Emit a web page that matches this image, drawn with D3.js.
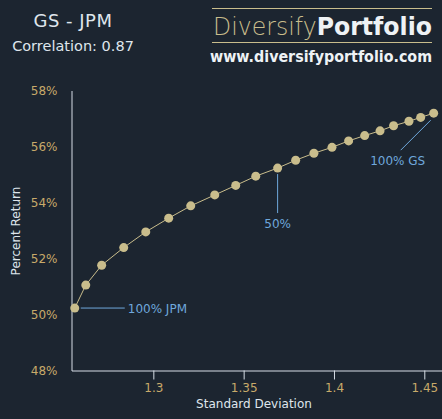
<!DOCTYPE html>
<html>
<head>
<meta charset="utf-8">
<script src="https://cdn.jsdelivr.net/npm/d3@7"></script>
<style>
  body { margin: 0; background: #1c2530; }
  svg { display: block; font-family: "DejaVu Sans", Verdana, sans-serif; }
</style>
</head>
<body>
<svg></svg>
<script>
// portfolio mixes, 0% GS .. 100% GS in 5% steps
var weightsGS = [0, 5, 10, 15, 20, 25, 30, 35, 40, 45, 50, 55, 60, 65, 70, 75, 80, 85, 90, 95, 100];
var stdDev = [1.2565, 1.2626, 1.2714, 1.2836, 1.2958, 1.3085, 1.3207, 1.3340, 1.3456, 1.3567, 1.3688,
              1.3788, 1.3889, 1.3989, 1.4081, 1.4170, 1.4255, 1.4330, 1.4415, 1.4480, 1.4552];
var pctReturn = [50.23, 51.05, 51.76, 52.39, 52.95, 53.44, 53.88, 54.27, 54.61, 54.94, 55.23,
                 55.51, 55.76, 55.97, 56.20, 56.39, 56.56, 56.74, 56.90, 57.04, 57.19];
var xTicks = [1.3, 1.35, 1.4, 1.45];
var yTicks = [48, 50, 52, 54, 56, 58];
var labels = [
    {idx: 0, text: '100% JPM'},
    {idx: 10, text: '50%'},
    {idx: 20, text: '100% GS'}
];

var data = weightsGS.map(function(w, i) {
    return {w: w, sd: stdDev[i], ret: pctReturn[i]};
});

drawChart(data);

function drawChart(data) {
    var svgWidth = 442, svgHeight = 419;
    var gold = '#c9bd8c', tickCol = '#c8aa6a', axisCol = '#d6dde6', blue = '#6fa8dc';

    var svg = d3.select('svg')
        .attr('width', svgWidth)
        .attr('height', svgHeight);

    svg.append('rect').attr('width', svgWidth).attr('height', svgHeight).attr('fill', '#1c2530');

    var x = d3.scaleLinear()
        .domain([1.2547, 1.4598])
        .range([71.5, 442]);

    var y = d3.scaleLinear()
        .domain([48, 58])
        .range([370.5, 90.5]);

    // titles
    svg.append('text').attr('x', 73).attr('y', 27)
        .attr('text-anchor', 'middle').attr('fill', '#dfe5ec')
        .style('font-size', '18px').style('letter-spacing', '0.5px').text('GS - JPM');
    svg.append('text').attr('x', 73).attr('y', 51)
        .attr('text-anchor', 'middle').attr('fill', '#dfe5ec')
        .style('font-size', '14.5px').text('Correlation: 0.87');

    // logo
    svg.append('line').attr('x1', 212).attr('x2', 432).attr('y1', 8.5).attr('y2', 8.5)
        .attr('stroke', gold).attr('stroke-width', 1);
    svg.append('line').attr('x1', 212).attr('x2', 432).attr('y1', 42.5).attr('y2', 42.5)
        .attr('stroke', gold).attr('stroke-width', 1);
    var logo = svg.append('text').attr('x', 213).attr('y', 35)
        .attr('textLength', 219).attr('lengthAdjust', 'spacingAndGlyphs')
        .style('font-size', '25px');
    logo.append('tspan').attr('fill', gold).style('font-weight', 200).text('Diversify');
    logo.append('tspan').attr('fill', '#eef2f5').style('font-weight', 'bold').text('Portfolio');
    svg.append('text').attr('x', 210).attr('y', 62)
        .attr('textLength', 222).attr('lengthAdjust', 'spacingAndGlyphs')
        .attr('fill', '#eef2f5').style('font-size', '15px').style('font-weight', 'bold')
        .text('www.diversifyportfolio.com');

    // x axis
    var xAxis = svg.append('g')
        .attr('transform', 'translate(0,370.5)')
        .call(d3.axisBottom(x).tickValues(xTicks).tickSize(9).tickPadding(4)
            .tickFormat(d3.format('')).tickSizeOuter(0));
    xAxis.select('.domain').attr('stroke', axisCol);
    xAxis.selectAll('.tick line').attr('stroke', axisCol);
    xAxis.selectAll('.tick text').attr('fill', tickCol)
        .style('font-size', '12px').style('font-family', '"DejaVu Sans", sans-serif');

    // y axis
    var yAxis = svg.append('g')
        .attr('transform', 'translate(71.5,0)')
        .call(d3.axisLeft(y).tickValues(yTicks).tickSize(0).tickPadding(14)
            .tickFormat(function(d) { return d + '%'; }));
    yAxis.select('.domain').attr('stroke', axisCol);
    yAxis.selectAll('.tick text').attr('fill', tickCol)
        .style('font-size', '12px').style('font-family', '"DejaVu Sans", sans-serif');

    svg.append('text').attr('x', 254).attr('y', 408)
        .attr('text-anchor', 'middle').attr('fill', '#dfe5ec')
        .style('font-size', '12px').text('Standard Deviation');
    svg.append('text')
        .attr('transform', 'translate(20,231) rotate(-90)')
        .attr('text-anchor', 'middle').attr('fill', '#dfe5ec')
        .style('font-size', '12px').text('Percent Return');

    // frontier line
    var line = d3.line()
        .x(function(d) { return x(d.sd); })
        .y(function(d) { return y(d.ret); });

    svg.append('path')
        .datum(data)
        .attr('fill', 'none')
        .attr('stroke', gold)
        .attr('stroke-width', 1)
        .attr('d', line);

    // annotations
    var p0 = data[labels[0].idx], p10 = data[labels[1].idx], p20 = data[labels[2].idx];
    var ann = svg.append('g').attr('stroke', blue).attr('stroke-width', 1);
    ann.append('line').attr('x1', x(p0.sd) + 6).attr('x2', x(p0.sd) + 50)
        .attr('y1', y(p0.ret)).attr('y2', y(p0.ret));
    ann.append('line').attr('x1', x(p10.sd)).attr('x2', x(p10.sd))
        .attr('y1', y(p10.ret) + 6).attr('y2', y(p10.ret) + 45);
    ann.append('line').attr('x1', x(p20.sd) - 3).attr('x2', x(p20.sd) - 33)
        .attr('y1', y(p20.ret) + 7).attr('y2', y(p20.ret) + 37);

    svg.append('text').attr('x', x(p0.sd) + 53).attr('y', y(p0.ret) + 4.5)
        .attr('fill', blue).style('font-size', '12px').text(labels[0].text);
    svg.append('text').attr('x', x(p10.sd)).attr('y', y(p10.ret) + 60)
        .attr('text-anchor', 'middle')
        .attr('fill', blue).style('font-size', '12px').text(labels[1].text);
    svg.append('text').attr('x', x(p20.sd) - 36).attr('y', y(p20.ret) + 52)
        .attr('text-anchor', 'middle')
        .attr('fill', blue).style('font-size', '12px').text(labels[2].text);

    // points
    svg.selectAll('circle.pt')
        .data(data)
        .enter().append('circle')
        .attr('class', 'pt')
        .attr('cx', function(d) { return x(d.sd); })
        .attr('cy', function(d) { return y(d.ret); })
        .attr('r', 4.5)
        .attr('fill', gold);
}
</script>
</body>
</html>
